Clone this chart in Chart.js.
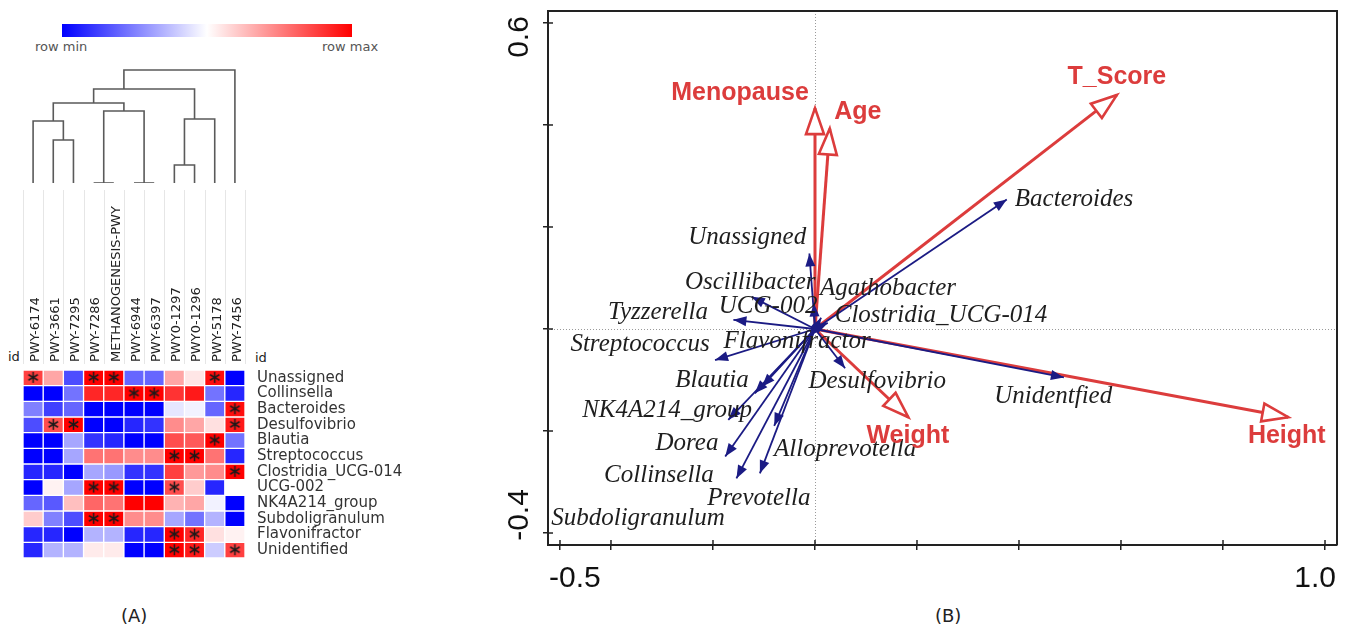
<!DOCTYPE html>
<html>
<head>
<meta charset="utf-8">
<script src="https://cdn.jsdelivr.net/npm/chart.js"></script>
<style>
body { margin: 0; background: #fff; width: 1349px; height: 631px; overflow: hidden; position: relative; font-family: "DejaVu Sans", sans-serif; }
canvas { position: absolute; }
.t { position: absolute; white-space: nowrap; line-height: 1; }
</style>
</head>
<body>
<div style="position:absolute;left:62px;top:24px;width:290px;height:13px;background:linear-gradient(to right,#0000ff,#ffffff,#ff0000)"></div>
<div class="t" style="left:35px;top:40px;font-size:13px;color:#555">row min</div>
<div class="t" style="left:322px;top:40px;font-size:13px;color:#555">row max</div>
<div class="t" style="left:8px;top:350px;font-size:13px;color:#222">id</div>
<div class="t" style="left:255px;top:351px;font-size:13px;color:#222">id</div>
<div class="t" style="left:121px;top:607px;font-size:18px;color:#222">(A)</div>
<div class="t" style="left:935px;top:607px;font-size:18px;color:#222">(B)</div>
<canvas id="dendro" width="222" height="130" style="left:23px;top:58px"></canvas>
<canvas id="heat" width="420" height="375" style="left:0;top:190px"></canvas>
<canvas id="rda" width="869" height="600" style="left:480px;top:0"></canvas>
<script>
// ---- panel A data ----
var pathways = ["PWY-6174", "PWY-3661", "PWY-7295", "PWY-7286", "METHANOGENESIS-PWY", "PWY-6944",
                "PWY-6397", "PWY0-1297", "PWY0-1296", "PWY-5178", "PWY-7456"];
var taxa = ["Unassigned", "Collinsella", "Bacteroides", "Desulfovibrio", "Blautia", "Streptococcus",
            "Clostridia_UCG-014", "UCG-002", "NK4A214_group", "Subdoligranulum", "Flavonifractor", "Unidentified"];
// row-scaled values, -1 = row min (blue), 1 = row max (red)
var heatRows = [
  [0.75, 0.35, -0.7, 1.0, 1.0, -0.6, -0.6, 0.35, 0.1, 0.95, -1.0],
  [-1.0, -1.0, -0.55, 0.85, 0.85, 1.0, 1.0, 0.8, 0.9, -0.55, -0.85],
  [-0.5, -0.75, -0.6, -1.0, -1.0, -1.0, -1.0, -0.1, -0.05, -0.6, 0.95],
  [-0.7, 0.7, 1.0, -1.0, -1.0, -0.85, -0.8, 0.45, 0.35, 0.12, 0.9],
  [-1.0, -1.0, -0.35, -0.8, -0.85, -1.0, -1.0, 0.7, 0.65, 1.0, -0.55],
  [-1.0, -1.0, -0.35, 0.55, 0.55, 0.45, 0.45, 1.0, 1.0, 0.55, -0.85],
  [-0.85, -0.85, -1.0, -0.35, -0.4, -0.8, -0.8, 0.75, 0.4, 0.45, 1.0],
  [-1.0, 0.05, -0.35, 1.0, 1.0, -1.0, -1.0, 0.7, 0.2, -0.85, 0.0],
  [-0.6, -0.65, 0.25, 0.6, 0.55, 1.0, 1.0, 0.3, 0.35, -0.05, -1.0],
  [0.2, -0.5, -0.7, 1.0, 1.0, 0.45, 0.45, -0.35, -0.55, -0.3, -1.0],
  [-0.85, -0.85, -1.0, -0.3, -0.3, -0.85, -0.85, 1.0, 0.85, 0.12, 0.05],
  [-0.85, -0.3, -0.3, 0.08, 0.08, -1.0, -1.0, 1.0, 0.9, -0.2, 0.75]
];
// significant cells [row, column]
var sigCells = [
  [0, 0], [0, 3], [0, 4], [0, 9],
  [1, 5], [1, 6],
  [2, 10],
  [3, 1], [3, 2], [3, 10],
  [4, 9],
  [5, 7], [5, 8],
  [6, 10],
  [7, 3], [7, 4], [7, 7],
  [9, 3], [9, 4],
  [10, 7], [10, 8],
  [11, 7], [11, 8], [11, 10]
];
// column dendrogram: [left leaves, right leaves, merge height]
var dendroMerges = [
  [[1], [2], 43],
  [[0], [1, 2], 62],
  [[3], [4], 0],
  [[5], [6], 0],
  [[3, 4], [5, 6], 72],
  [[0, 1, 2], [3, 4, 5, 6], 80],
  [[7], [8], 18],
  [[7, 8], [9], 64],
  [[0, 1, 2, 3, 4, 5, 6], [7, 8, 9], 94],
  [[0, 1, 2, 3, 4, 5, 6, 7, 8, 9], [10], 113]
];

// ---- panel B data ----
var envNames = ["Menopause", "Age", "T_Score", "Weight", "Height"];
var envX = [0.0, 0.029, 0.592, 0.183, 0.928];
var envY = [0.433, 0.393, 0.459, -0.173, -0.173];
var envLabelX = [-0.147, 0.084, 0.592, 0.182, 0.925];
var envLabelY = [0.463, 0.426, 0.494, -0.210, -0.210];

var spNames = ["Bacteroides", "Unidentfied", "Unassigned", "Oscillibacter", "Agathobacter", "UCG-002",
               "Tyzzerella", "Clostridia_UCG-014", "Streptococcus", "Flavonifractor", "Blautia",
               "Subdoligranulum", "Desulfovibrio", "NK4A214_group", "Dorea", "Alloprevotella",
               "Collinsella", "Prevotella"];
var spX = [0.376, 0.488, -0.011, -0.002, 0.012, -0.124, -0.160, 0.025, -0.196, -0.012, -0.104,
           -0.118, 0.059, -0.170, -0.176, -0.080, -0.154, -0.108];
var spY = [0.254, -0.095, 0.148, 0.050, 0.022, 0.063, 0.018, 0.012, -0.061, -0.015, -0.113,
           -0.126, -0.077, -0.178, -0.250, -0.190, -0.293, -0.283];
var spLabelX = [0.508, 0.467, -0.133, -0.127, 0.143, -0.092, -0.308, 0.247, -0.343, -0.035, -0.202,
                -0.347, 0.122, -0.290, -0.251, 0.059, -0.306, -0.110];
var spLabelY = [0.255, -0.133, 0.180, 0.092, 0.080, 0.045, 0.033, 0.027, -0.031, -0.024, -0.100,
                -0.371, -0.102, -0.159, -0.224, -0.237, -0.288, -0.333];

var xTicks = [-0.5, -0.4, -0.2, 0, 0.2, 0.4, 0.6, 0.8, 1.0];
var yTicks = [-0.4, -0.2, 0, 0.2, 0.4, 0.6];
var xTickLabels = {"-0.5": "-0.5", "1": "1.0"};
var yTickLabels = {"-0.4": "-0.4", "0.6": "0.6"};

var RED = "#dc3c3c";
var NAVY = "#1b1b84";

Chart.defaults.font.family = "DejaVu Sans";

function heatColor(v) {
    var c = Math.round(255 * (1 - Math.abs(v)));
    return v >= 0 ? "rgb(255," + c + "," + c + ")" : "rgb(" + c + "," + c + ",255)";
}

// six-armed asterisk used as point style for significant cells
var asterisk = document.createElement("canvas");
asterisk.width = 13;
asterisk.height = 13;
(function () {
    var c = asterisk.getContext("2d");
    c.strokeStyle = "#1a1a1a";
    c.lineWidth = 1.5;
    [90, 30, -30].forEach(function (deg) {
        var r = deg * Math.PI / 180, dx = Math.cos(r) * 5.5, dy = Math.sin(r) * 5.5;
        c.beginPath();
        c.moveTo(6.5 - dx, 6.5 - dy);
        c.lineTo(6.5 + dx, 6.5 + dy);
        c.stroke();
    });
})();

// ---- dendrogram ----
var nodeHeight = {};
dendroMerges.forEach(function (m) {
    nodeHeight[m[0].concat(m[1]).join(",")] = m[2];
});
function leafMean(l) { return l.reduce(function (a, b) { return a + b; }, 0) / l.length; }
function heightOf(l) { return l.length === 1 ? 0 : nodeHeight[l.join(",")]; }

new Chart(document.getElementById("dendro"), {
    type: "scatter",
    data: {
        datasets: dendroMerges.map(function (m) {
            var xl = leafMean(m[0]), xr = leafMean(m[1]);
            return {
                data: [{ x: xl, y: heightOf(m[0]) }, { x: xl, y: m[2] }, { x: xr, y: m[2] }, { x: xr, y: heightOf(m[1]) }],
                showLine: true, pointRadius: 0, borderColor: "#5a5a5a", borderWidth: 1.6
            };
        })
    },
    options: {
        responsive: false, animation: false,
        layout: { padding: { bottom: 5 } },
        plugins: { legend: { display: false }, tooltip: { enabled: false } },
        scales: {
            x: { display: false, min: -0.5, max: pathways.length - 0.5 },
            y: { display: false, min: 0, max: 125 }
        }
    }
});

// ---- heatmap ----
var colGuides = {
    id: "colGuides",
    beforeDraw: function (chart) {
        var ctx = chart.ctx, x = chart.scales.x;
        ctx.save();
        ctx.strokeStyle = "#e6e6e6";
        ctx.lineWidth = 1;
        for (var k = 0; k <= pathways.length; k++) {
            var px = Math.round(x.getPixelForValue(k - 0.5)) + 0.5;
            ctx.beginPath();
            ctx.moveTo(px, 0);
            ctx.lineTo(px, chart.chartArea.top - 6);
            ctx.stroke();
        }
        ctx.restore();
    }
};

var heatSets = taxa.map(function (t, r) {
    return {
        label: t,
        data: pathways.map(function () { return 1; }),
        backgroundColor: heatRows[r].map(heatColor),
        borderColor: "#ffffff", borderWidth: 1, borderSkipped: false,
        barPercentage: 1, categoryPercentage: 1, yAxisID: "y"
    };
});
heatSets.push({
    type: "line", label: "sig", yAxisID: "y2", showLine: false, order: -1,
    data: sigCells.map(function (s) { return { x: pathways[s[1]], y: s[0] + 0.47 }; }),
    pointStyle: asterisk, pointRadius: 6
});

new Chart(document.getElementById("heat"), {
    type: "bar",
    data: { labels: pathways, datasets: heatSets },
    options: {
        responsive: false, animation: false,
        layout: { padding: { left: 23, bottom: 6 } },
        plugins: { legend: { display: false }, tooltip: { enabled: false } },
        scales: {
            x: {
                position: "top", stacked: true,
                grid: { display: false, drawTicks: false }, border: { display: false },
                ticks: { autoSkip: false, minRotation: 90, maxRotation: 90, padding: 8, labelOffset: 18,
                         color: "#222", font: { size: 13 } },
                afterFit: function (s) { s.height = 180; s.paddingLeft = 0; s.paddingRight = 0; }
            },
            y: {
                position: "right", stacked: true, reverse: true, min: 0, max: taxa.length,
                grid: { display: false, drawTicks: false }, border: { display: false },
                afterBuildTicks: function (s) { s.ticks = taxa.map(function (_, i) { return { value: i + 0.5 }; }); },
                ticks: { autoSkip: false, padding: 12, color: "#333", font: { size: 15 },
                         callback: function (v, i) { return taxa[i]; } },
                afterFit: function (s) { s.width = 175; s.paddingTop = 0; s.paddingBottom = 0; }
            },
            y2: { display: false, reverse: true, min: 0, max: taxa.length }
        }
    },
    plugins: [colGuides]
});

// ---- RDA biplot ----
function drawHead(ctx, p0, p1, len, half, fill, stroke, lw) {
    var a = Math.atan2(p1.y - p0.y, p1.x - p0.x);
    ctx.save();
    ctx.translate(p1.x, p1.y);
    ctx.rotate(a);
    ctx.beginPath();
    ctx.moveTo(0, 0);
    ctx.lineTo(-len, half);
    ctx.lineTo(-len, -half);
    ctx.closePath();
    ctx.fillStyle = fill;
    ctx.fill();
    if (stroke) { ctx.strokeStyle = stroke; ctx.lineWidth = lw; ctx.stroke(); }
    ctx.restore();
}

var rdaDecor = {
    id: "rdaDecor",
    beforeDatasetsDraw: function (chart) {
        var ctx = chart.ctx, a = chart.chartArea, x = chart.scales.x, y = chart.scales.y;
        ctx.save();
        ctx.strokeStyle = "#9a9a9a";
        ctx.lineWidth = 1;
        ctx.setLineDash([1, 2]);
        var x0 = Math.round(x.getPixelForValue(0)) + 0.5, y0 = Math.round(y.getPixelForValue(0)) + 0.5;
        ctx.beginPath(); ctx.moveTo(x0, a.top); ctx.lineTo(x0, a.bottom); ctx.stroke();
        ctx.beginPath(); ctx.moveTo(a.left, y0); ctx.lineTo(a.right, y0); ctx.stroke();
        ctx.setLineDash([]);
        ctx.strokeStyle = "#222";
        ctx.lineWidth = 2;
        ctx.beginPath(); ctx.moveTo(a.left, a.top); ctx.lineTo(a.right, a.top); ctx.lineTo(a.right, a.bottom); ctx.stroke();
        // inner half of the crossing ticks
        ctx.lineWidth = 1.5;
        xTicks.forEach(function (v) {
            var px = x.getPixelForValue(v);
            ctx.beginPath(); ctx.moveTo(px, a.bottom); ctx.lineTo(px, a.bottom - 5); ctx.stroke();
        });
        yTicks.forEach(function (v) {
            var py = y.getPixelForValue(v);
            ctx.beginPath(); ctx.moveTo(a.left, py); ctx.lineTo(a.left + 5, py); ctx.stroke();
        });
        ctx.restore();
    },
    afterDatasetsDraw: function (chart) {
        var ctx = chart.ctx, a = chart.chartArea, x = chart.scales.x, y = chart.scales.y;
        ctx.save();
        chart.data.datasets.forEach(function (ds, i) {
            if (ds.kind !== "sp") return;
            var pts = chart.getDatasetMeta(i).data;
            drawHead(ctx, pts[0], pts[1], 13, 5, NAVY);
        });
        chart.data.datasets.forEach(function (ds, i) {
            if (ds.kind !== "env") return;
            var pts = chart.getDatasetMeta(i).data;
            drawHead(ctx, pts[0], pts[1], 26, 9, "#ffffff", RED, 2.6);
        });
        ctx.textBaseline = "middle";
        ctx.textAlign = "center";
        ctx.fillStyle = "#1e1e1e";
        ctx.font = 'italic 25px "Liberation Serif"';
        spNames.forEach(function (n, i) {
            ctx.fillText(n, x.getPixelForValue(spLabelX[i]), y.getPixelForValue(spLabelY[i]));
        });
        ctx.fillStyle = RED;
        ctx.font = 'bold 25px "Liberation Sans"';
        envNames.forEach(function (n, i) {
            ctx.fillText(n, x.getPixelForValue(envLabelX[i]), y.getPixelForValue(envLabelY[i]));
        });
        // axis end labels
        ctx.fillStyle = "#111";
        ctx.font = '30px "Liberation Sans"';
        ctx.textBaseline = "top";
        xTicks.forEach(function (v) {
            var s = xTickLabels[String(v)];
            if (!s) return;
            var px = x.getPixelForValue(v);
            if (v < 0) { ctx.textAlign = "left"; ctx.fillText(s, px - 11, a.bottom + 19); }
            else { ctx.textAlign = "right"; ctx.fillText(s, px + 11, a.bottom + 19); }
        });
        yTicks.forEach(function (v) {
            var s = yTickLabels[String(v)];
            if (!s) return;
            var py = y.getPixelForValue(v);
            ctx.save();
            ctx.translate(a.left - 28, v > 0 ? py + 14 : py - 18);
            ctx.rotate(-Math.PI / 2);
            ctx.textAlign = "center";
            ctx.textBaseline = "middle";
            ctx.fillText(s, 0, 0);
            ctx.restore();
        });
        ctx.restore();
    }
};

var rdaSets = [];
spNames.forEach(function (n, i) {
    rdaSets.push({
        kind: "sp", label: n, showLine: true, pointRadius: 0,
        borderColor: NAVY, borderWidth: 1.8,
        data: [{ x: 0, y: 0 }, { x: spX[i], y: spY[i] }]
    });
});
envNames.forEach(function (n, i) {
    rdaSets.push({
        kind: "env", label: n, showLine: true, pointRadius: 0,
        borderColor: RED, borderWidth: 3,
        data: [{ x: 0, y: 0 }, { x: envX[i], y: envY[i] }]
    });
});

new Chart(document.getElementById("rda"), {
    type: "scatter",
    data: { datasets: rdaSets },
    options: {
        responsive: false, animation: false,
        layout: { padding: { top: 11, right: 12 } },
        plugins: { legend: { display: false }, tooltip: { enabled: false } },
        scales: {
            x: {
                type: "linear", min: -0.5235, max: 1.0235,
                afterBuildTicks: function (s) { s.ticks = xTicks.map(function (v) { return { value: v }; }); },
                ticks: { display: false },
                grid: { drawOnChartArea: false, drawTicks: true, tickLength: 5, color: "#222", lineWidth: 1.5 },
                border: { display: true, color: "#222", width: 2 },
                afterFit: function (s) { s.height = 55; }
            },
            y: {
                type: "linear", min: -0.4235, max: 0.6235,
                afterBuildTicks: function (s) { s.ticks = yTicks.map(function (v) { return { value: v }; }); },
                ticks: { display: false },
                grid: { drawOnChartArea: false, drawTicks: true, tickLength: 5, color: "#222", lineWidth: 1.5 },
                border: { display: true, color: "#222", width: 2 },
                afterFit: function (s) { s.width = 68; }
            }
        }
    },
    plugins: [rdaDecor]
});
</script>
</body>
</html>
